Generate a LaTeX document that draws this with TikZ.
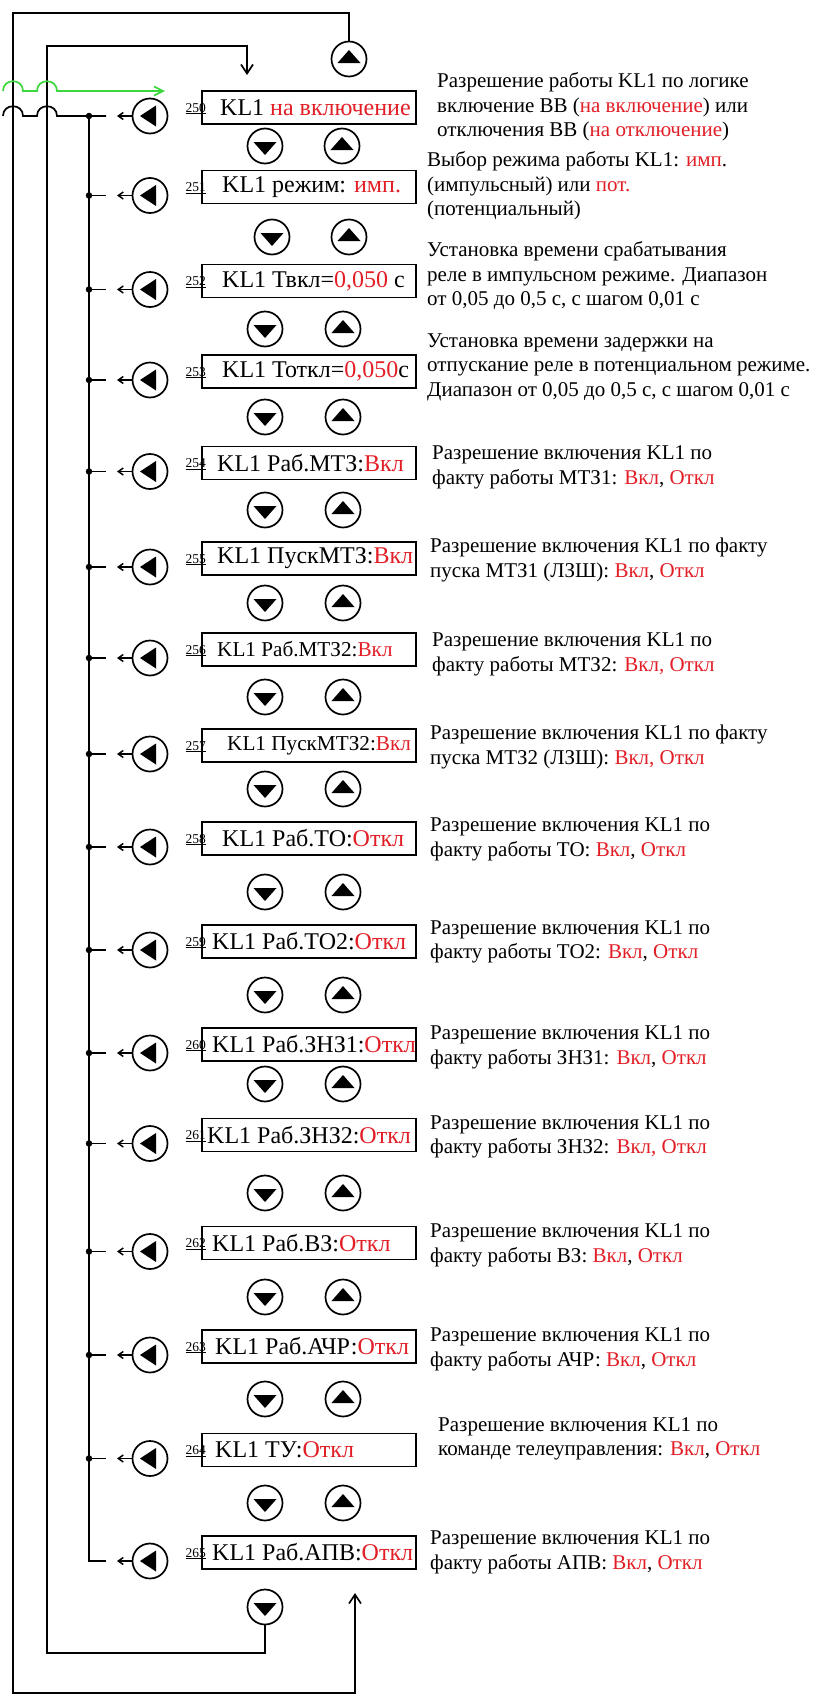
\documentclass[tikz,border=0pt]{standalone}
\usepackage{fontspec}
\setmainfont{Liberation Serif}
\usetikzlibrary{arrows.meta}
\definecolor{redt}{RGB}{226,30,38}
\definecolor{greenl}{RGB}{60,215,60}
\newcommand\rd[1]{\textcolor{redt}{#1}}
\newcommand\smallbox{\fontsize{21.2}{25}\selectfont}
\newcommand\kbox[7]{%
  \node[boxn] (b#1) at (309,#2) {};
  \node[boxt] (t#1) at (#3,#2) {#4};
  \node[numn] (n#1) at (206,#2+4.5) {\underline{#1}};
  \node[lbtn] (l#1) at (150,#2+8.5) {};
  \coordinate (a#1) at (117,#2+8.5);
  \coordinate (s#1) at (106,#2+8.5);
  \coordinate (j#1) at (89,#2+8.5);
  \draw[sarr] (l#1) -- (a#1);
  \node[desc] (x#1) at (#5,#6) {#7};
}
\begin{document}
\begin{tikzpicture}[x=1pt,y=-1pt,
  ln/.style={line width=1.7pt},
  boxn/.style={draw,line width=1.7pt,minimum width=214pt,minimum height=33pt,inner sep=0pt},
  boxt/.style={anchor=west,inner sep=0pt,font=\fontsize{24}{28}\selectfont},
  numn/.style={anchor=base east,inner sep=0pt,font=\fontsize{13.5}{16}\selectfont},
  desc/.style={anchor=west,align=left,inner sep=0pt,font=\fontsize{21}{24.5}\selectfont},
  btn/.style={circle,draw,line width=1.7pt,minimum size=35pt,inner sep=0pt},
  lbtn/.style={btn,path picture={\fill (path picture bounding box.center) ++(-10,0) -- ++(16,-10.5) -- ++(0,21) -- cycle;}},
  ubtn/.style={btn,path picture={\fill (path picture bounding box.center) ++(0,-9) -- ++(11.5,13) -- ++(-23,0) -- cycle;}},
  dbtn/.style={btn,path picture={\fill (path picture bounding box.center) ++(0,9) -- ++(11.5,-13) -- ++(-23,0) -- cycle;}},
  jdot/.style={circle,fill,inner sep=0pt,minimum size=6.5pt},
  sarr/.style={line width=1.5pt,-{Straight Barb[length=5pt,width=7pt]}},
  barr/.style={ln,-{Straight Barb[length=9pt,width=12pt]}},
]
\fill[white] (0,0) rectangle (827,1697);
\useasboundingbox (0,0) rectangle (827,1697);

\kbox{250}{107.5}{220}{KL1 \rd{на включение}}{437}{107}{Разрешение работы KL1 по логике\\включение ВВ (\rd{на включение}) или\\отключения ВВ (\rd{на отключение})}
\kbox{251}{187}{222}{KL1 режим: \rd{имп.}}{427}{186}{Выбор режима работы KL1: \rd{имп}.\\(импульсный) или \rd{пот.}\\(потенциальный)}
\kbox{252}{281}{222}{KL1 Твкл=\rd{0,050} с}{427}{276}{Установка времени срабатывания\\реле в импульсном режиме. Диапазон\\от 0,05 до 0,5 с, с шагом 0,01 с}
\kbox{253}{371.5}{222}{KL1 Тоткл=\rd{0,050}с}{427}{367}{Установка времени задержки на\\отпускание реле в потенциальном режиме.\\Диапазон от 0,05 до 0,5 с, с шагом 0,01 с}
\kbox{254}{463}{217}{KL1 Раб.МТЗ:\rd{Вкл}}{432}{467.5}{Разрешение включения KL1 по\\факту работы МТЗ1: \rd{Вкл}, \rd{Откл}}
\kbox{255}{558.5}{217}{KL1 ПускМТЗ:\rd{Вкл}}{430}{560}{Разрешение включения KL1 по факту\\пуска МТЗ1 (ЛЗШ): \rd{Вкл}, \rd{Откл}}
\kbox{256}{649.5}{217}{\smallbox KL1 Раб.МТЗ2:\rd{Вкл}}{432}{654.5}{Разрешение включения KL1 по\\факту работы МТЗ2: \rd{Вкл, Откл}}
\kbox{257}{745.5}{227}{\smallbox KL1 ПускМТЗ2:\rd{Вкл}}{430}{747}{Разрешение включения KL1 по факту\\пуска МТЗ2 (ЛЗШ): \rd{Вкл, Откл}}
\kbox{258}{838.5}{222}{KL1 Раб.ТО:\rd{Откл}}{430}{839.5}{Разрешение включения KL1 по\\факту работы ТО: \rd{Вкл}, \rd{Откл}}
\kbox{259}{941.5}{212}{KL1 Раб.ТО2:\rd{Откл}}{430}{942}{Разрешение включения KL1 по\\факту работы ТО2: \rd{Вкл}, \rd{Откл}}
\kbox{260}{1044.5}{212}{KL1 Раб.ЗНЗ1:\rd{Откл}}{430}{1047.5}{Разрешение включения KL1 по\\факту работы ЗНЗ1: \rd{Вкл}, \rd{Откл}}
\kbox{261}{1135}{207}{KL1 Раб.ЗНЗ2:\rd{Откл}}{430}{1137}{Разрешение включения KL1 по\\факту работы ЗНЗ2: \rd{Вкл, Откл}}
\kbox{262}{1243}{212}{KL1 Раб.ВЗ:\rd{Откл}}{430}{1245.5}{Разрешение включения KL1 по\\факту работы ВЗ: \rd{Вкл}, \rd{Откл}}
\kbox{263}{1346.5}{215}{KL1 Раб.АЧР:\rd{Откл}}{430}{1349.5}{Разрешение включения KL1 по\\факту работы АЧР: \rd{Вкл}, \rd{Откл}}
\kbox{264}{1450}{215}{KL1 ТУ:\rd{Откл}}{438}{1439}{Разрешение включения KL1 по\\команде телеуправления: \rd{Вкл}, \rd{Откл}}
\kbox{265}{1552.5}{212}{KL1 Раб.АПВ:\rd{Откл}}{430}{1552.5}{Разрешение включения KL1 по\\факту работы АПВ: \rd{Вкл}, \rd{Откл}}

% up/down buttons between rows
\node[dbtn] (d250) at (265,146) {};
\node[ubtn] (u250) at (342,146) {};
\node[dbtn] (d251) at (272,237) {};
\node[ubtn] (u251) at (349,237) {};
\foreach \i/\y in {252/329,253/417,254/510,255/603,256/697,257/789,258/892,259/995,260/1084,261/1193,262/1297,263/1399,264/1503}{
  \node[dbtn] (d\i) at (265,\y) {};
  \node[ubtn] (u\i) at (343,\y) {};
}
\node[ubtn] (utop) at (349,59) {};
\node[dbtn] (dlast) at (265,1607) {};

% bus with junctions
\draw[ln] (j250) -- (j265) -- (s265);
\node[jdot] at (j250) {};
\foreach \i in {251,...,264}{
  \node[jdot] at (j\i) {};
  \draw[ln] (j\i) -- (s\i);
}

% loops
\coordinate (otip) at (355,1593);
\coordinate (itip) at (247,75);
\draw[barr] (utop) -- (349,13) -| (13,1693) -| (otip);
\draw[barr] (dlast) -- (265,1653) -| (47,46) -| (itip);

% incoming lines with hops
\coordinate (blk) at (3,116);
\coordinate (grn) at (3,91);
\coordinate (gtip) at (165,91);
\draw[ln] (blk) .. controls (3,103) and (23,103) .. (23,116) -- (37,116)
  .. controls (37,103) and (57,103) .. (57,116) -- (j250) -- (s250);
\draw[ln,greenl,-{Straight Barb[length=9pt,width=9pt]}] (grn) .. controls (3,78) and (23,78) .. (23,91) -- (37,91)
  .. controls (37,78) and (57,78) .. (57,91) -- (gtip);
\end{tikzpicture}
\end{document}
